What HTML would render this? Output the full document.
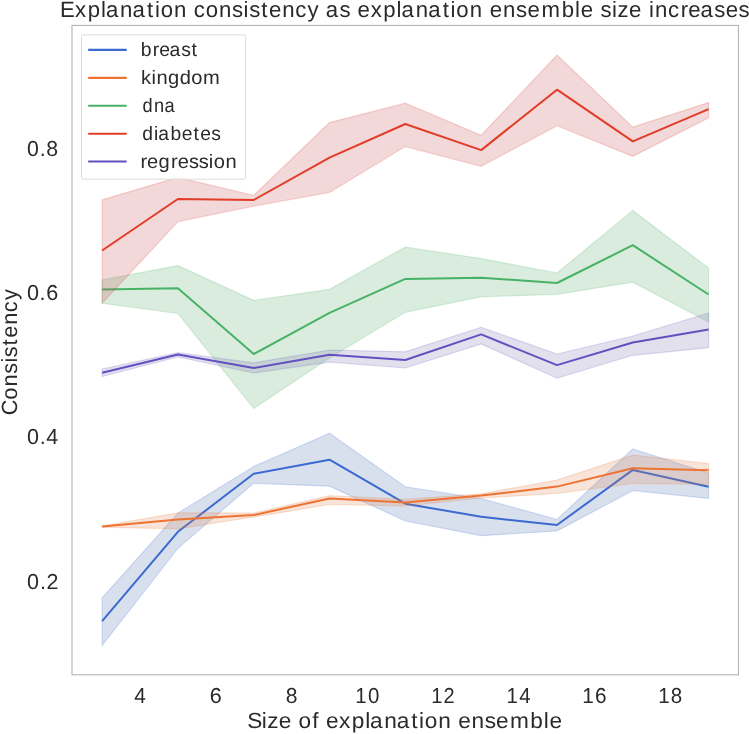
<!DOCTYPE html>
<html><head><meta charset="utf-8"><style>
html,body{margin:0;padding:0;background:#fff;}
body{width:749px;height:734px;overflow:hidden;}
svg{display:block;will-change:transform;}
text{font-family:"Liberation Sans", sans-serif;fill:#2a2a2a;}
</style></head><body>
<svg width="749" height="734" viewBox="0 0 749 734" text-rendering="geometricPrecision">
<rect x="0" y="0" width="749" height="734" fill="#fff"/>
<polygon points="102.1,597.8 177.9,513.1 253.7,466.5 329.5,433.2 405.3,486.8 481.2,498.5 557.0,519.4 632.8,449.0 708.6,473.0 708.6,498.4 632.8,490.6 557.0,530.9 481.2,535.7 405.3,521.0 329.5,486.2 253.7,483.3 177.9,548.3 102.1,645.5" fill="#4c72b0" fill-opacity="0.22" stroke="#3a6ad0" stroke-opacity="0.2" stroke-width="1.2"/>
<polyline points="102.1,621.2 177.9,531.8 253.7,473.8 329.5,459.7 405.3,503.7 481.2,516.8 557.0,525.0 632.8,469.9 708.6,486.7" fill="none" stroke="#3a6ad0" stroke-width="2.0" stroke-linejoin="round" stroke-linecap="butt"/>
<polygon points="102.1,526.0 177.9,512.8 253.7,513.0 329.5,495.7 405.3,499.3 481.2,493.8 557.0,480.1 632.8,455.1 708.6,463.5 708.6,484.5 632.8,483.3 557.0,493.5 481.2,498.0 405.3,506.0 329.5,504.5 253.7,517.0 177.9,528.8 102.1,527.2" fill="#dd8452" fill-opacity="0.22" stroke="#ee7332" stroke-opacity="0.2" stroke-width="1.2"/>
<polyline points="102.1,526.6 177.9,519.6 253.7,515.0 329.5,498.6 405.3,502.6 481.2,495.6 557.0,486.6 632.8,468.2 708.6,470.2" fill="none" stroke="#ee7332" stroke-width="2.0" stroke-linejoin="round" stroke-linecap="butt"/>
<polygon points="102.1,279.9 177.9,265.6 253.7,300.3 329.5,289.3 405.3,247.0 481.2,258.6 557.0,272.9 632.8,210.4 708.6,268.1 708.6,322.0 632.8,282.2 557.0,294.3 481.2,296.8 405.3,312.3 329.5,358.0 253.7,408.5 177.9,313.5 102.1,303.3" fill="#55a868" fill-opacity="0.22" stroke="#47b265" stroke-opacity="0.2" stroke-width="1.2"/>
<polyline points="102.1,289.6 177.9,288.2 253.7,354.0 329.5,312.9 405.3,278.9 481.2,277.7 557.0,283.0 632.8,245.2 708.6,294.5" fill="none" stroke="#47b265" stroke-width="2.0" stroke-linejoin="round" stroke-linecap="butt"/>
<polygon points="102.1,199.8 177.9,177.3 253.7,195.4 329.5,122.6 405.3,103.2 481.2,135.2 557.0,55.1 632.8,127.1 708.6,102.6 708.6,117.8 632.8,156.4 557.0,125.8 481.2,166.3 405.3,146.6 329.5,192.5 253.7,206.1 177.9,221.7 102.1,303.3" fill="#c44e52" fill-opacity="0.22" stroke="#e23c28" stroke-opacity="0.2" stroke-width="1.2"/>
<polyline points="102.1,250.5 177.9,199.0 253.7,200.0 329.5,157.6 405.3,124.0 481.2,150.1 557.0,89.7 632.8,141.3 708.6,109.2" fill="none" stroke="#e23c28" stroke-width="2.0" stroke-linejoin="round" stroke-linecap="butt"/>
<polygon points="102.1,369.0 177.9,352.7 253.7,362.9 329.5,350.0 405.3,351.8 481.2,327.3 557.0,354.0 632.8,336.0 708.6,313.0 708.6,347.7 632.8,355.3 557.0,378.2 481.2,343.9 405.3,368.0 329.5,362.1 253.7,373.0 177.9,356.8 102.1,376.5" fill="#8172b3" fill-opacity="0.22" stroke="#6350c0" stroke-opacity="0.2" stroke-width="1.2"/>
<polyline points="102.1,372.7 177.9,354.5 253.7,368.0 329.5,354.8 405.3,360.0 481.2,334.4 557.0,365.1 632.8,342.5 708.6,329.4" fill="none" stroke="#6350c0" stroke-width="2.0" stroke-linejoin="round" stroke-linecap="butt"/>
<rect x="72" y="25.43" width="666.45" height="649.37" fill="none" stroke="#b4b4b4" stroke-width="1.1"/>
<rect x="81.5" y="34.9" width="164.1" height="144.3" rx="1.5" ry="1.5" fill="#ffffff" fill-opacity="0.8" stroke="#dcdcdc" stroke-width="1"/>
<line x1="88.2" y1="49.9" x2="126.7" y2="49.9" stroke="#3a6ad0" stroke-width="2.1"/>
<line x1="88.2" y1="77.9" x2="126.7" y2="77.9" stroke="#ee7332" stroke-width="2.1"/>
<line x1="88.2" y1="105.8" x2="126.7" y2="105.8" stroke="#47b265" stroke-width="2.1"/>
<line x1="88.2" y1="133.7" x2="126.7" y2="133.7" stroke="#e23c28" stroke-width="2.1"/>
<line x1="88.2" y1="161.5" x2="126.7" y2="161.5" stroke="#6350c0" stroke-width="2.1"/>
<text transform="translate(0,17.00) scale(0.9989,1)" x="60.15 75.09 87.74 101.05 106.05 120.21 132.67 147.23 155.07 160.85 174.19 186.54 193.94 205.97 219.31 232.37 243.84 249.42 261.43 269.19 282.53 295.49 307.93 319.03 326.16 339.83 350.93 358.02 371.06 383.72 397.03 402.03 416.19 428.65 443.21 451.04 456.83 470.17 482.51 490.29 503.62 516.68 528.08 541.99 562.31 575.63 581.50 593.84 601.14 612.62 618.20 629.68 642.03 649.68 655.74 668.70 681.48 689.12 701.39 715.06 726.46 739.32" y="0" font-size="22.2">Explanation consistency as explanation ensemble size increases</text>
<text transform="translate(0,728.40) scale(1.0283,1)" x="240.34 254.61 259.97 271.12 283.36 290.42 303.74 309.85 317.09 329.78 342.07 355.08 359.86 373.63 385.74 399.96 407.59 413.14 426.10 438.34 445.66 458.62 471.33 482.39 495.86 515.67 528.68 534.32" y="0" font-size="22.0">Size of explanation ensemble</text>
<text transform="translate(0,155.70) scale(0.9813,1)" x="27.65 40.41 47.15" y="0" font-size="21.7">0.8</text>
<text transform="translate(0,300.00) scale(0.9949,1)" x="27.10 39.77 46.40" y="0" font-size="21.7">0.6</text>
<text transform="translate(0,444.30) scale(0.9916,1)" x="27.17 39.99 46.77" y="0" font-size="21.7">0.4</text>
<text transform="translate(0,588.60) scale(0.9925,1)" x="27.33 40.30 46.97" y="0" font-size="21.7">0.2</text>
<text transform="translate(0,56.10) scale(0.9956,1)" x="141.45 153.40 159.88 170.35 182.06 192.38" y="0" font-size="19.5">breast</text>
<text transform="translate(0,84.20) scale(1.0317,1)" x="136.70 146.93 151.80 162.94 174.23 185.42 196.86" y="0" font-size="19.5">kingdom</text>
<text transform="translate(0,112.10) scale(0.9326,1)" x="152.82 165.18 176.40" y="0" font-size="19.5">dna</text>
<text transform="translate(0,140.00) scale(0.9893,1)" x="143.86 155.67 159.94 172.29 183.76 195.70 202.38 213.53" y="0" font-size="19.5">diabetes</text>
<text transform="translate(0,168.10) scale(1.0303,1)" x="136.32 142.74 153.93 166.03 172.46 183.40 192.84 202.67 207.47 218.79" y="0" font-size="19.5">regression</text>
<text transform="translate(0,702.90) scale(0.9620,1)" x="139.58" y="0" font-size="21.7">4</text>
<text transform="translate(0,702.90) scale(0.9955,1)" x="210.69" y="0" font-size="21.7">6</text>
<text transform="translate(0,702.90) scale(0.9723,1)" x="293.92" y="0" font-size="21.7">8</text>
<text transform="translate(0,702.90) scale(0.9414,1)" x="377.46 390.95" y="0" font-size="21.7">10</text>
<text transform="translate(0,702.90) scale(0.9230,1)" x="467.16 480.63" y="0" font-size="21.7">12</text>
<text transform="translate(0,702.90) scale(0.9420,1)" x="537.64 551.11" y="0" font-size="21.7">14</text>
<text transform="translate(0,702.90) scale(0.9584,1)" x="607.52 620.77" y="0" font-size="21.7">16</text>
<text transform="translate(0,702.90) scale(0.9466,1)" x="695.30 708.72" y="0" font-size="21.7">18</text>
<g transform="translate(16.7,0) rotate(-90)"><text transform="translate(0,0.00) scale(0.9857,1)" x="-421.26 -405.44 -392.21 -379.26 -367.89 -362.35 -350.44 -342.74 -329.51 -316.66 -304.33" y="0" font-size="22.0">Consistency</text></g>
</svg>
</body></html>
